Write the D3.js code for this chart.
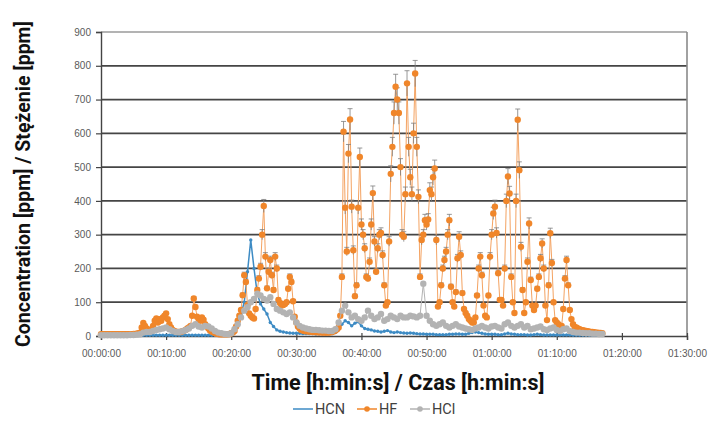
<!DOCTYPE html>
<html>
<head>
<meta charset="utf-8">
<script src="https://d3js.org/d3.v7.min.js"></script>
<style>
  html, body { margin: 0; padding: 0; background: #fff; }
  svg { display: block; }
</style>
</head>
<body>
<div id="chart"></div>
<script>
// sampling steps (minutes)
var hfStep = 0.25;
var gasStep = 0.5;

// HF [ppm], every 0.25 min from 00:00:00
var hfValues = [
  5,5,5,5,5,5,5,5,5,5,5,5,5,5,5,5,5,5,5,5,6,6,7,8,
  10,25,39,30,22,18,15,20,
  30,45,52,40,50,45,55,60,
  67,50,35,25,18,15,13,12,
  12,12,14,16,18,22,25,30,
  60,111,86,57,50,45,55,48,
  35,28,22,16,13,11,9,7,
  6,5,5,5,5,5,5,6,8,10,
  15,28,45,60,77,121,180,160,
  92,67,60,55,52,80,136,170,
  205,300,385,235,141,190,225,180,
  136,235,200,107,98,90,92,95,
  100,140,175,160,103,57,40,28,
  22,18,
  16,15,14,14,13,13,12,12,12,11,11,11,10,10,10,10,10,11,12,14,16,20,
  25,60,175,605,380,250,540,641,
  383,254,118,150,380,530,330,300,
  260,175,170,220,330,423,280,190,
  260,300,305,240,150,90,100,280,
  480,560,660,738,700,660,500,300,
  294,420,748,560,470,420,600,777,
  560,412,175,284,300,343,330,345,
  432,420,470,496,284,87,100,150,
  200,225,250,300,343,146,100,87,
  130,230,294,240,127,80,68,60,
  50,45,40,40,55,120,200,235,
  180,90,60,55,120,235,300,363,
  383,305,186,107,107,90,200,400,
  472,422,175,100,68,400,640,491,
  264,136,68,100,220,333,166,90,
  77,90,140,175,230,274,200,90,
  47,150,304,216,100,47,40,35,
  30,30,80,170,225,150,77,50,
  35,27,25,
  22,20,18,17,16,15,14,13,12,12,11,10,10,9,9,8
];

// HCN [ppm], every 0.5 min
var hcnValues = [
  1,1,1,1,1,1,1,1,1,1,2,2,2,2,2,2,2,2,2,2,
  2,2,2,2,2,2,2,2,2,2,2,2,2,2,2,2,2,2,3,3,
  10,20,40,65,100,190,284,200,125,95,80,65,40,28,18,14,12,
  10,9,8,8,8,7,7,7,7,6,6,6,6,6,7,
  10,20,35,45,40,30,38,42,30,22,20,18,15,14,12,
  14,16,12,10,12,10,9,8,9,8,7,6,6,5,
  5,5,4,4,4,4,5,5,6,6,5,5,8,10,12,10,8,6,5,5,
  5,4,4,6,8,6,5,4,4,4,3,3,4,5,4,3,3,3,3,3,
  3,3,3,3,2,2,2,2,2,2,2,2,2,2
];

// HCl [ppm], every 0.5 min
var hclValues = [
  2,2,2,2,2,2,2,2,2,3,3,4,
  5,10,12,12,15,18,20,22,25,20,
  15,12,12,14,18,22,30,35,28,25,
  30,28,22,15,10,8,6,5,8,
  20,35,55,75,85,100,110,125,120,110,
  105,115,95,80,75,70,65,70,55,40,
  30,25,22,20,18,18,17,16,16,15,
  15,20,
  40,75,90,70,55,60,50,45,55,75,
  60,50,55,65,45,50,60,55,50,60,
  55,55,60,58,55,60,155,60,
  45,35,30,35,40,30,25,30,35,28,
  25,22,20,18,22,25,30,25,22,28,
  30,25,22,35,40,30,25,30,35,25,
  30,20,22,25,28,20,18,22,25,18,
  15,20,22,15,12,10,10,9,8,8,
  7,7,6,6
];

var yTicks = [0, 100, 200, 300, 400, 500, 600, 700, 800, 900];
var xTicks = [0, 10, 20, 30, 40, 50, 60, 70, 80, 90]; // minutes

var seriesNames = ["HCN", "HF", "HCl"];
var colors = { HCN: "#3d8bc4", HF: "#f0862a", HCl: "#b3b3b3" };

function toPoints(values, step) {
  return values.map(function (v, i) { return { t: i * step, v: v }; });
}

function fmtTime(m) {
  var h = Math.floor(m / 60), mm = m % 60;
  return String(h).padStart(2, "0") + ":" + String(mm).padStart(2, "0") + ":00";
}

var width = 710, height = 421;
var svg = d3.select("#chart").append("svg")
  .attr("width", width).attr("height", height);

var x = d3.scaleLinear().domain([0, 90]).range([101, 687]);
var y = d3.scaleLinear().domain([0, 900]).range([336, 32]);

// gridlines
svg.append("g").selectAll("line")
  .data(yTicks.slice(1))
  .enter().append("line")
  .attr("x1", x(0)).attr("x2", x(90))
  .attr("y1", y).attr("y2", y)
  .attr("stroke", function (d) { return d === 900 ? "#9a9a9a" : "#454545"; })
  .attr("stroke-width", 1.7);

// right border
svg.append("line")
  .attr("x1", x(90)).attr("x2", x(90)).attr("y1", y(900)).attr("y2", y(0))
  .attr("stroke", "#8a8a8a").attr("stroke-width", 1.6);

// axes
var yAxis = svg.append("g")
  .attr("transform", "translate(" + x(0) + ",0)")
  .call(d3.axisLeft(y).tickValues(yTicks).tickSize(5).tickPadding(5));
var xAxis = svg.append("g")
  .attr("transform", "translate(0," + y(0) + ")")
  .call(d3.axisBottom(x).tickValues(xTicks).tickSize(4).tickPadding(10).tickFormat(fmtTime));

[yAxis, xAxis].forEach(function (a) {
  a.select(".domain").attr("stroke", "#444").attr("stroke-width", 1.4);
  a.selectAll(".tick line").attr("stroke", "#444").attr("stroke-width", 1.2);
  a.selectAll("text")
    .attr("fill", "#5a5a5a")
    .style("font-family", "Liberation Sans, Arial, sans-serif")
    .style("font-size", "10px");
});
xAxis.selectAll(".tick line").attr("y1", -3);

// series
var data = {
  HCN: toPoints(hcnValues, gasStep),
  HF: toPoints(hfValues, hfStep),
  HCl: toPoints(hclValues, gasStep)
};

var line = d3.line()
  .x(function (d) { return x(d.t); })
  .y(function (d) { return y(d.v); });

var plot = svg.append("g");

seriesNames.forEach(function (name) {
  var g = plot.append("g");
  var pts = data[name];

  g.append("path")
    .datum(pts)
    .attr("fill", "none")
    .attr("stroke", name === "HF" ? "#f4a362" : colors[name])
    .attr("stroke-width", name === "HCN" ? 1.5 : 1)
    .attr("d", line);

  if (name === "HF") {
    // error bars +-5%
    var eb = g.append("g").attr("stroke", "#7d7d7d").attr("stroke-width", 0.8);
    eb.selectAll("line.v")
      .data(pts.filter(function (d) { return d.v > 40; }))
      .enter().append("line")
      .attr("x1", function (d) { return x(d.t); })
      .attr("x2", function (d) { return x(d.t); })
      .attr("y1", function (d) { return y(d.v * 1.05); })
      .attr("y2", function (d) { return y(d.v * 0.95); });
    eb.selectAll("line.c")
      .data(pts.filter(function (d) { return d.v > 40; }))
      .enter().append("line")
      .attr("x1", function (d) { return x(d.t) - 2.5; })
      .attr("x2", function (d) { return x(d.t) + 2.5; })
      .attr("y1", function (d) { return y(d.v * 1.05); })
      .attr("y2", function (d) { return y(d.v * 1.05); });
  }

  g.selectAll("circle")
    .data(pts)
    .enter().append("circle")
    .attr("cx", function (d) { return x(d.t); })
    .attr("cy", function (d) { return y(d.v); })
    .attr("r", name === "HCN" ? 1.7 : 3.2)
    .attr("fill", colors[name]);
});

// axis titles
svg.append("text")
  .attr("transform", "translate(30,184) rotate(-90)")
  .attr("text-anchor", "middle")
  .style("font-family", "Roboto, sans-serif")
  .style("font-weight", "bold")
  .style("font-size", "19.5px")
  .attr("fill", "#111")
  .text("Concentration [ppm] / Stężenie [ppm]");

svg.append("text")
  .attr("x", 398).attr("y", 390)
  .attr("text-anchor", "middle")
  .style("font-family", "Roboto, sans-serif")
  .style("font-weight", "bold")
  .style("font-size", "21.5px")
  .attr("fill", "#111")
  .text("Time [h:min:s] / Czas [h:min:s]");

// legend
var legendX = [293, 357, 410];
var legend = svg.append("g").selectAll("g")
  .data(seriesNames)
  .enter().append("g")
  .attr("transform", function (d, i) { return "translate(" + legendX[i] + ",409)"; });

legend.append("line")
  .attr("x1", 0).attr("x2", 20)
  .attr("stroke", function (d) { return colors[d]; })
  .attr("stroke-width", 1.5);

legend.filter(function (d) { return d !== "HCN"; })
  .append("circle")
  .attr("cx", 10).attr("r", 2.8)
  .attr("fill", function (d) { return colors[d]; });

legend.append("text")
  .attr("x", 22).attr("dy", "0.35em")
  .style("font-family", "Roboto, sans-serif")
  .style("font-size", "14.5px")
  .attr("fill", "#404040")
  .text(function (d) { return d; });
</script>
</body>
</html>
